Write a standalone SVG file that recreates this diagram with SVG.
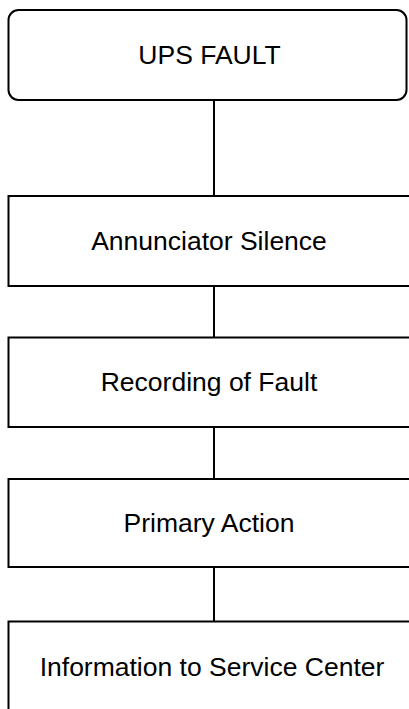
<svg xmlns="http://www.w3.org/2000/svg" width="409" height="709" viewBox="0 0 409 709">
<style>
.box{fill:#fff;stroke:#000;stroke-width:2}
.lbl{font-family:"Liberation Sans",Arial,sans-serif;font-size:26.5px;fill:#000;text-anchor:middle}
.conn{stroke:#000;stroke-width:2;fill:none}
</style>
<rect width="409" height="709" fill="#fff"/>
<g id="connectors">
<line class="conn" x1="214" y1="100" x2="214" y2="196"/>
<line class="conn" x1="214" y1="286" x2="214" y2="337.5"/>
<line class="conn" x1="214" y1="427" x2="214" y2="479"/>
<line class="conn" x1="214" y1="567" x2="214" y2="621.5"/>
</g>
<g id="n1">
<rect class="box" x="8.5" y="10" width="398" height="90" rx="10" ry="10"/>
<text class="lbl" x="209.5" y="64">UPS FAULT</text>
</g>
<g id="n2">
<rect class="box" x="8.5" y="196" width="412" height="90"/>
<text class="lbl" x="209" y="250">Annunciator Silence</text>
</g>
<g id="n3">
<rect class="box" x="8.5" y="337.5" width="412" height="89.5"/>
<text class="lbl" x="209" y="391">Recording of Fault</text>
</g>
<g id="n4">
<rect class="box" x="8.5" y="479" width="412" height="88"/>
<text class="lbl" x="209" y="532">Primary Action</text>
</g>
<g id="n5">
<rect class="box" x="8.5" y="621.5" width="412" height="100"/>
<text class="lbl" x="212" y="676">Information to Service Center</text>
</g>
</svg>
